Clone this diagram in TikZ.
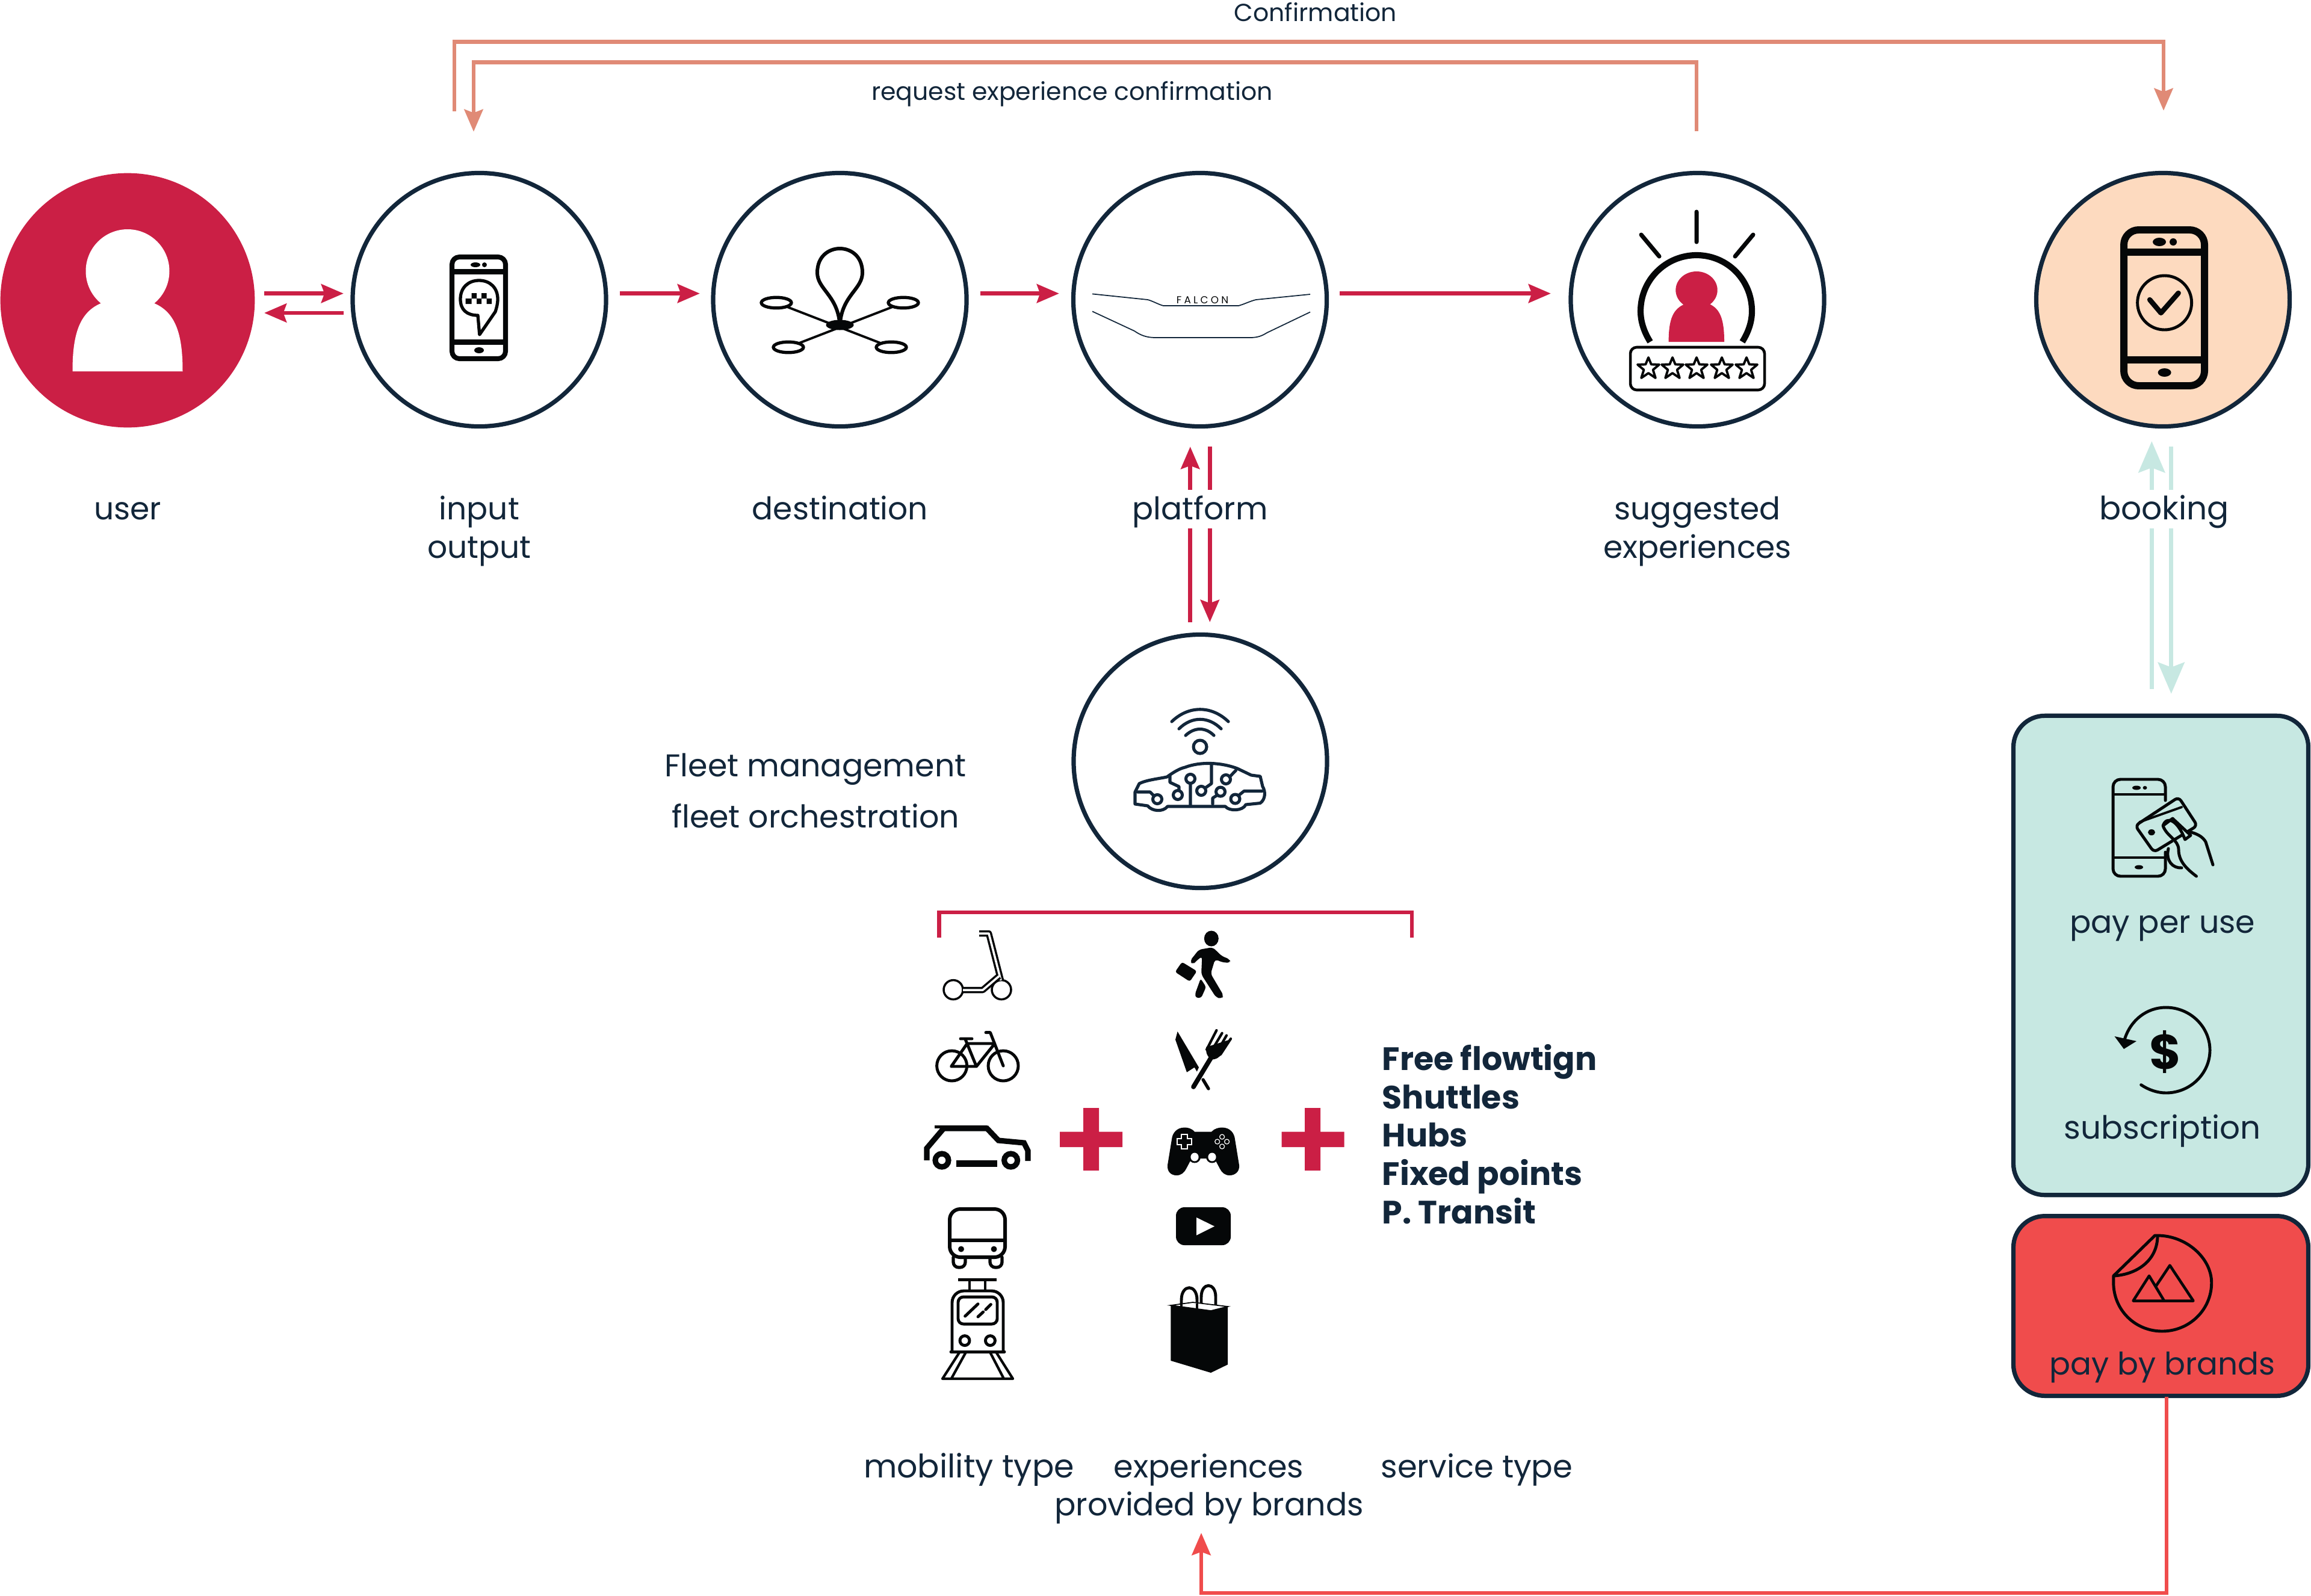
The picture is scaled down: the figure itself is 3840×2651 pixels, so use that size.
\documentclass[tikz,border=0pt]{standalone}
\usepackage{fontspec}
\setmainfont{Poppins}
\usetikzlibrary{arrows.meta,calc}
\definecolor{navy}{HTML}{12263A}
\definecolor{crimson}{HTML}{CB1F45}
\definecolor{peach}{HTML}{FDDABF}
\definecolor{mint}{HTML}{C7E8E2}
\definecolor{salmon}{HTML}{E08A76}
\definecolor{brandred}{HTML}{F04C4C}
\definecolor{ink}{HTML}{050708}
\tikzset{
  ring/.style={circle,draw=navy,line width=2.05pt,minimum size=119.75pt,inner sep=0pt},
  panel/.style={rectangle,rounded corners=14.8pt,draw=navy,line width=2.05pt,inner sep=0pt,minimum width=139.35pt},
  redarrow/.style={draw=crimson,line width=1.93pt,-{Stealth[length=10.5pt,width=8.8pt,inset=1.5pt]}},
  salarrow/.style={draw=salmon,line width=1.93pt,-{Stealth[length=10.5pt,width=8.8pt,inset=1.6pt]}},
  mintarrow/.style={draw=mint,line width=1.93pt,-{Stealth[length=14.8pt,width=12.5pt,inset=2.3pt]}},
  brandarrow/.style={draw=brandred,line width=1.93pt,-{Stealth[length=10.5pt,width=8.8pt,inset=1.5pt]}},
  lbl/.style={anchor=base,inner sep=0pt,text=navy,font=\fontsize{14.75}{18.1}\selectfont,align=center},
  small/.style={anchor=base,inner sep=0pt,text=navy,font=\fontsize{11.65}{14}\selectfont},
  gap/.style={fill=white,text height=13.9pt,text depth=4.3pt},
  ic/.style={draw=ink,line width=1.5pt,line join=round,line cap=round},
  icf/.style={fill=ink},
  fl/.style={draw=navy,line width=1.45pt,line join=round,line cap=round},
}
\begin{document}
\begin{tikzpicture}[x=0.01cm,y=-0.01cm]
\useasboundingbox (0,0) rectangle (3840,2651);
% main nodes
\node[circle,fill=crimson,minimum size=120.2pt,inner sep=0pt] (user) at (212,499) {};
\node[ring] (input) at (796.5,498) {};
\node[ring] (destination) at (1395.5,498) {};
\node[ring] (platform) at (1994,498) {};
\node[ring] (suggested) at (2820.5,498) {};
\node[ring,fill=peach] (booking) at (3594,498) {};
\node[ring] (fleet) at (1994.5,1265) {};
\node[panel,fill=mint,minimum height=226.45pt] (payuse) at (3590.5,1587.5) {};
\node[panel,fill=brandred,minimum height=84.95pt] (paybrand) at (3590.5,2170) {};
% connectors
\draw[redarrow] ($(user.east)+(15,-11.3)$) -- ($(input.west)+(-11.5,-10.3)$);
\draw[redarrow] ($(input.west)+(-11.5,22)$) -- ($(user.east)+(15,21)$);
\draw[redarrow] ($(input.east)+(19,-10.3)$) -- ($(destination.west)+(-18.5,-10.3)$);
\draw[redarrow] ($(destination.east)+(19.5,-10.3)$) -- ($(platform.west)+(-20,-10.3)$);
\draw[redarrow] ($(platform.east)+(18,-10.3)$) -- ($(suggested.west)+(-29.5,-10.3)$);
\draw[salarrow] ($(input.north)+(-41.5,-99)$) -- ++(0,-115.7) -| ($(booking.north)+(1,-100)$);
\draw[salarrow] ($(suggested.north)+(-1.5,-66)$) -- ++(0,-114.7) -| ($(input.north)+(-9.5,-65)$);
\draw[redarrow] ($(fleet.north)+(-16.8,-17)$) -- ($(platform.south)+(-16.3,30)$);
\draw[redarrow] ($(platform.south)+(16.3,30)$) -- ($(fleet.north)+(15.8,-17)$);
\draw[mintarrow] ($(payuse.north)+(-15.2,-41)$) -- ($(booking.south)+(-18.7,21)$);
\draw[mintarrow] ($(booking.south)+(13.7,30)$) -- ($(payuse.north)+(17.2,-33)$);
\coordinate (brandElbow) at (3600,2647);
\coordinate (brandTip) at (1996,2547);
\draw[brandarrow] ($(paybrand.south)+(9.5,-2)$) -- (brandElbow) -| (brandTip);
% bracket
\draw[draw=crimson,line width=1.9pt] (1560.7,1558) -- (1560.7,1516) -- (2346,1516) -- (2346,1558);
% labels
\node[small] (lconf) at (2186,35) {Confirmation};
\node[small] (lreq) at (1781.5,166.7) {request experience confirmation};
\node[lbl] (luser) at (212,863) {user};
\node[lbl] (linput) at (796.5,927) {input\\output};
\node[lbl] (ldest) at (1396,863) {destination};
\node[lbl,gap] (lplat) at (1994,863) {platform};
\node[lbl] (lsugg) at (2820.5,927) {suggested\\experiences};
\node[lbl,gap,font=\fontsize{15.2}{18.1}\selectfont] (lbook) at (3596,863) {booking};
\node[lbl,font=\fontsize{14.85}{18.1}\selectfont] (lfleet1) at (1355,1290) {Fleet management};
\node[lbl,font=\fontsize{14.85}{18.1}\selectfont] (lfleet2) at (1355,1375) {fleet orchestration};
\node[lbl,font=\fontsize{15.3}{18.1}\selectfont] (lmob) at (1610,2455) {mobility type};
\node[lbl,font=\fontsize{14.9}{18.1}\selectfont] (lexp) at (2008.5,2455) {experiences};
\node[lbl,font=\fontsize{14.9}{18.1}\selectfont] (lprov) at (2009,2518) {provided by brands};
\node[lbl,font=\fontsize{15}{18.1}\selectfont] (lserv) at (2454,2455) {service type};
\node[lbl,font=\fontsize{14.85}{18.1}\selectfont] (lppu) at (3593,1550) {pay per use};
\node[lbl,font=\fontsize{15.1}{18.1}\selectfont] (lsub) at (3593,1892) {subscription};
\node[lbl,font=\fontsize{14.7}{18.1}\selectfont] (lpbb) at (3593,2284) {pay by brands};
\node[anchor=base west,inner sep=0pt,text=navy,align=left,font=\fontsize{15.3}{18.07}\selectfont\bfseries] (lservices) at (2296,2033)
  {Free flowtign\\Shuttles\\Hubs\\Fixed points\\P. Transit};
% user person
\fill[white] (167.6,504) .. controls (130,520) and (120.5,560) .. (120.5,617) -- (303.5,617) .. controls (303.5,560) and (294,520) .. (256.4,504) -- cycle;
\fill[white] (212,450.5) ellipse [x radius=69.5,y radius=69.5];
% input phone
\draw[ic,line width=2.3pt,rounded corners=3.5pt] (751,427) rectangle (840,596);
\draw[ic,line width=2.3pt,line cap=butt] (751,451.5) -- (840,451.5) (751,568.5) -- (840,568.5);
\fill[icf] (790,440) ellipse [x radius=8,y radius=4] (805,440) ellipse [x radius=4,y radius=4] (796,582) ellipse [x radius=8,y radius=5];
\draw[ic] (796.8,556) -- (794,524) .. controls (776,524) and (765,515) .. (765,497) .. controls (765,478) and (778,466) .. (796,466) .. controls (814,466) and (827,478) .. (827,497) .. controls (827,505) and (825,512) .. (823,518) -- cycle;
\fill[icf] (783.6,487) rectangle (792,496) (800,487) rectangle (808.5,496) (773.6,496) rectangle (783.6,505) (792,496) rectangle (800,505) (808.5,496) rectangle (817,505);
% destination icon
\draw[ic,line width=1.7pt] (1395,535) .. controls (1390,490) and (1358,480) .. (1358,453) .. controls (1358,425) and (1378,413) .. (1395.5,413) .. controls (1413,413) and (1433,425) .. (1433,453) .. controls (1433,480) and (1401,490) .. (1396,535);
\draw[ic,line width=1.1pt] (1290,503) -- (1481,577) (1501,503) -- (1310,577);
\fill[icf] (1395.5,540) ellipse [x radius=23,y radius=8.5];
\foreach \p in {(1290,503),(1501,503),(1310,577),(1481,577)}
  \draw[ic,fill=white] \p ellipse [x radius=25,y radius=8.8];
% platform icon
\draw[navy,line width=0.5pt] (1815,488.4) -- (1907,498) .. controls (1915,500) and (1925,506) .. (1933,508) -- (2058,508) .. controls (2066,506) and (2078,500) .. (2087,498) -- (2177,489);
\draw[navy,line width=0.5pt] (1815,517.4) -- (1885,550) .. controls (1895,557) and (1905,561) .. (1920,561) -- (2077,561) .. controls (2090,561) and (2097,558) .. (2105,553) -- (2177,518.5);
\node[anchor=base,inner sep=0pt,text=ink,font=\fontsize{4.8}{5}\selectfont\addfontfeature{LetterSpace=25}] (lfalcon) at (1998,504.7) {FALCON};
% suggested icon
\draw[ic,line width=2pt] (2819,352) -- (2819,402) (2727,390) -- (2757,426) (2913,390) -- (2883,426);
\draw[ic,line width=2.9pt,line cap=butt] (2742,568) .. controls (2732,552) and (2726,535) .. (2726,517) .. controls (2726,465) and (2768,424) .. (2819,424) .. controls (2870,424) and (2911,465) .. (2911,517) .. controls (2911,535) and (2905,552) .. (2895,568);
\fill[crimson] (2819,482) ellipse [x radius=34.7,y radius=31];
\fill[crimson] (2772.6,568) .. controls (2772.6,530) and (2780,513) .. (2800,505) -- (2840,505) .. controls (2858,513) and (2865,530) .. (2865,568) -- cycle;
\draw[ic,line width=1.3pt,rounded corners=3pt] (2709,577) rectangle (2932,648);
\foreach \c in {2739,2779,2819,2861,2902}{
  \begin{scope}[shift={(\c,612)}]
  \draw[ic,line width=1.1pt,miter limit=3] (0,-18) -- (4.7,-6.5) -- (18,-6.2) -- (7.6,2.5) -- (11.8,16) -- (0,8) -- (-11.8,16) -- (-7.6,2.5) -- (-18,-6.2) -- (-4.7,-6.5) -- cycle;
  \end{scope}
}
% booking icon
\draw[ic,line width=3.4pt,rounded corners=7pt] (3529,382) rectangle (3663,641);
\draw[ic,line width=3.6pt,line cap=butt] (3529,419) -- (3663,419) (3529,598) -- (3663,598);
\fill[icf] (3588,402) ellipse [x radius=11,y radius=7] (3611,402) ellipse [x radius=6,y radius=6] (3596.6,619) ellipse [x radius=11,y radius=7];
\draw[ic,line width=1.4pt] (3596.6,503) ellipse [x radius=45,y radius=45];
\draw[ic,line width=2.4pt] (3572,498) -- (3590.6,520) -- (3619.6,487);
% fleet icon
\draw[fl] (1947,1199) .. controls (1975,1172) and (2013,1172) .. (2041,1199);
\draw[fl] (1959,1211) .. controls (1980,1190) and (2008,1190) .. (2029,1211);
\draw[fl] (1970,1222) .. controls (1985,1208) and (2003,1208) .. (2017,1222);
\draw[fl] (1994,1241) ellipse [x radius=11,y radius=11];
\draw[fl] (1886,1332) -- (1886,1316) -- (1893,1302) .. controls (1905,1296) and (1925,1294) .. (1939,1291) .. controls (1950,1283) and (1960,1277) .. (1969,1275) .. controls (1995,1265) and (2030,1267) .. (2056,1277) -- (2079,1288) -- (2094,1290) -- (2098,1307) .. controls (2103,1315) and (2103,1328) .. (2094,1334.5) -- (2070,1337) .. controls (2065,1348) and (2042,1348) .. (2036,1340) -- (1940,1340) .. controls (1932,1350) and (1914,1348) .. (1907,1339) -- (1886,1336) -- cycle;
\draw[fl] (1978,1303) -- (1978,1338) (2013,1271) -- (2013,1302) -- (2003,1309) (1944,1288) -- (1944,1300) -- (1959,1307) -- (1959,1313)
  (1890,1316) -- (1911,1316) -- (1916,1321) (2097,1314.5) -- (2067,1314.5) -- (2059,1321) (2053.6,1280) -- (2043,1291) (2015,1336) -- (2015,1326) -- (2023,1321);
\foreach \p in {(1978,1294),(1996,1314),(1957,1321),(1923,1328),(2052.5,1327.5),(2037,1295),(2028,1315.6)}
  \draw[fl] \p ellipse [x radius=7.5,y radius=7.5];
% scooter
\draw[ic,line width=1pt] (1584,1644.6) ellipse [x radius=16,y radius=16] (1664,1644.6) ellipse [x radius=16,y radius=16];
\draw[ink,line width=1pt,double=white,double distance=1pt,line join=round] (1627,1551) -- (1643,1551) -- (1663,1629);
\draw[ink,line width=1pt,double=white,double distance=1pt,line join=round] (1600,1645) -- (1633,1645) -- (1660,1622);
% bike
\draw[ic,line width=1.4pt] (1581.6,1771) ellipse [x radius=25,y radius=25] (1667,1771) ellipse [x radius=25,y radius=25];
\draw[ic,line width=1.4pt] (1580.6,1772) -- (1622.4,1772) -- (1653,1734) -- (1607,1734) -- cycle (1603.6,1726) -- (1622.4,1772) (1596,1726) -- (1615,1726) (1638,1715.6) -- (1645.4,1715.6) -- (1667,1771);
% car
\draw[ink,line width=2.6pt,line join=miter] (1540,1928) -- (1540,1908) -- (1568,1875) -- (1640,1875) -- (1659,1895) -- (1701.5,1899) -- (1708,1912) -- (1708,1929);
\fill[ink,line width=0pt] (1552.5,1870) rectangle (1640,1875);
\draw[ink,line width=2.6pt] (1565,1928) ellipse [x radius=11,y radius=11] (1679.6,1928) ellipse [x radius=11,y radius=11];
\fill[ink] (1589,1928) rectangle (1656.6,1939);
% bus
\draw[ic,line width=1.7pt,rounded corners=5pt] (1578,2009) rectangle (1670,2089);
\draw[ic,line width=1.7pt,line cap=butt] (1578,2061) -- (1670,2061);
\fill[icf] (1597,2075.5) ellipse [x radius=5,y radius=5] (1651.5,2075.5) ellipse [x radius=5,y radius=5];
\draw[ic,line width=1.5pt,rounded corners=2.5pt] (1584,2089) -- (1584,2106) -- (1604,2106) -- (1604,2089) (1645,2089) -- (1645,2106) -- (1665,2106) -- (1665,2089);
% train
\draw[ic,line width=1.4pt,line cap=butt] (1592,2126.5) -- (1656,2126.5) (1611,2126) -- (1611,2145) (1637,2126) -- (1637,2145);
\draw[ic,line width=1.4pt,rounded corners=5.5pt] (1582,2246) -- (1582,2145) -- (1667,2145) -- (1667,2246);
\draw[ic,line width=1.4pt] (1580,2246) -- (1669,2246);
\draw[ic,line width=1.4pt,rounded corners=2.5pt] (1592,2155) rectangle (1657,2200);
\draw[ic,line width=1.4pt] (1603.6,2187) -- (1625,2166.7) (1625,2188) -- (1633.7,2180) (1637.8,2176) -- (1646.4,2167.5);
\draw[ic,line width=1.4pt] (1603,2227.6) ellipse [x radius=8,y radius=8] (1645.4,2227.6) ellipse [x radius=8,y radius=8];
\draw[ic,line width=1.2pt] (1594,2247.5) -- (1566,2291) -- (1683,2291) -- (1655.6,2247.5) (1604.6,2247.5) -- (1580.6,2291) (1645.4,2247.5) -- (1668,2291);
% walker
\fill[icf] (2012.8,1559.5) ellipse [x radius=12,y radius=13];
\fill[icf,rounded corners=1.5pt] (1992,1578) -- (2015,1574) -- (2030.6,1589) -- (2043,1593.6) -- (2045,1600) -- (2030.6,1599) -- (2019,1593.6) -- (2011.7,1618) -- (2033,1654) -- (2030,1660) -- (2020.4,1657) -- (1996,1619) -- (1997.4,1589) -- (1987,1597.4) -- (1982,1603) -- (1977,1597) -- cycle;
\fill[icf,rounded corners=1pt] (1964,1598.5) -- (1988.8,1613.7) -- (1977,1631) -- (1952.5,1615) -- cycle;
\fill[icf,rounded corners=1pt] (1995,1626) -- (2004,1640) -- (1996,1658) -- (1987,1658) -- (1985.7,1651.6) -- cycle;
% knife and fork
\fill[icf] (1956.6,1714) -- (1953,1727.5) -- (1972,1781.7) -- (1984.7,1773.6) -- (1988.8,1780.6) -- (1992,1773.6) -- cycle;
\draw[ink,line width=1.5pt,line cap=round] (1999,1794) -- (2008,1809);
\draw[ink,line width=2.2pt,line cap=round] (2012,1758) -- (1983,1806);
\fill[icf] (2004,1744) .. controls (2004,1755) and (2012,1762) .. (2018,1760) .. controls (2026,1758) and (2030,1752) .. (2033,1747) -- (2045,1727) -- (2004,1740) -- cycle;
\draw[ink,line width=1.2pt,line cap=round] (2005,1744) -- (2021.4,1712) (2012,1748) -- (2030.6,1716.7) (2020,1752) -- (2038,1720.5) (2028,1752) -- (2045,1726);
% controller
\fill[icf] (1985,1880.6) -- (2013,1880.6) .. controls (2018,1875) and (2025,1873.5) .. (2030.6,1873.5) .. controls (2044,1873.5) and (2051,1883) .. (2052,1893) -- (2059,1936) .. controls (2060,1947) and (2052,1953) .. (2043,1953) .. controls (2035,1953) and (2030,1948) .. (2027,1942) -- (2018,1925) -- (1980,1925) -- (1971,1942) .. controls (1968,1948) and (1963,1953) .. (1955,1953) .. controls (1946,1953) and (1939,1947) .. (1940,1936) -- (1947,1893) .. controls (1948,1883) and (1955,1873.5) .. (1968.4,1873.5) .. controls (1974,1873.5) and (1980,1875) .. (1985,1880.6) -- cycle;
\fill[icf] (1985,1922.5) ellipse [x radius=10,y radius=10] (2014,1922.5) ellipse [x radius=10,y radius=10];
\fill[white] (1985,1922.5) ellipse [x radius=6.6,y radius=7] (2014,1922.5) ellipse [x radius=6.6,y radius=7];
\draw[white,line width=0.35pt] (1963,1885) -- (1973,1885) -- (1973,1892) -- (1980,1892) -- (1980,1902) -- (1973,1902) -- (1973,1909) -- (1963,1909) -- (1963,1902) -- (1956,1902) -- (1956,1892) -- (1963,1892) -- cycle;
\draw[white,line width=0.35pt] (2030.6,1889) circle [radius=4] (2022.7,1897) circle [radius=4] (2038.6,1897) circle [radius=4] (2030.6,1905) circle [radius=4];
% play
\fill[icf,rounded corners=4pt] (1954,2006) rectangle (2045,2069);
\fill[white] (1988,2023) -- (2018,2037.7) -- (1988,2052.6) -- cycle;
% bag
\draw[ink,line width=1.4pt] (1963,2172) -- (1963,2160) .. controls (1963,2133) and (1989,2133) .. (1989,2160) -- (1989,2176);
\draw[ink,line width=1.4pt] (1996,2168) -- (1996,2155) .. controls (1996,2130) and (2020,2130) .. (2020,2155) -- (2020,2170);
\fill[icf] (1945.4,2169) -- (1945.4,2261) -- (2012,2281) -- (2040,2267.4) -- (2040,2171) -- (2012,2178) -- cycle;
\draw[ink,line width=0.5pt,fill=white] (1945.4,2169) -- (1982,2164) -- (2040,2171) -- (2012,2178) -- cycle;
\draw[ink,line width=1.4pt] (1963,2172) -- (1963,2166) (1989,2166) -- (1989,2176);
% pluses
\fill[crimson] (1800,1841) rectangle (1826,1945) (1761,1880.6) rectangle (1865,1906);
\fill[crimson] (2168,1841) rectangle (2194,1945) (2129.6,1880.6) rectangle (2233.7,1906);
% pay per use icon
\draw[ic,line width=1.4pt,rounded corners=3.5pt] (3598,1330) -- (3598,1295) -- (3511,1295) -- (3511,1456) -- (3598,1456) -- (3598,1416);
\draw[ic,line width=1.4pt,line cap=butt] (3511,1320) -- (3598,1320) (3511,1425) -- (3598,1425);
\fill[icf] (3550,1309) ellipse [x radius=7,y radius=3.5] (3564,1309) ellipse [x radius=3.5,y radius=3] (3554,1441) ellipse [x radius=7,y radius=3.5];
\draw[ic,line width=1.4pt,rounded corners=2pt,fill=mint] (3548,1372) -- (3620,1324.5) -- (3651,1372) -- (3579,1416) -- cycle;
\draw[ic,line width=1.1pt] (3555,1366) -- (3625.4,1341);
\fill[icf] (3575,1383) ellipse [x radius=6,y radius=5];
\draw[ic,line width=1.4pt,fill=mint] (3594,1372) .. controls (3600,1355) and (3618,1362) .. (3630.6,1395) -- (3640,1388) -- (3610,1360) -- cycle;
\draw[ic,line width=1.4pt,fill=mint] (3594,1372) .. controls (3600,1390) and (3620,1395) .. (3620,1412) .. controls (3620,1432) and (3635,1445) .. (3649.5,1456);
\draw[ic,line width=1.4pt] (3677,1437) -- (3665,1399) .. controls (3660,1390) and (3650,1385) .. (3637.5,1382);
\draw[ic,line width=1.4pt] (3603,1410) .. controls (3598,1430) and (3610,1443) .. (3625,1442);
% subscription icon
\draw[ic,line width=1.4pt] (3557.6,1802.6) .. controls (3570,1811) and (3585,1816) .. (3599,1816) .. controls (3639,1816) and (3672,1784) .. (3672,1745) .. controls (3672,1706) and (3639,1674) .. (3599,1674) .. controls (3567,1674) and (3540,1695) .. (3530,1727.7);
\fill[icf] (3513.5,1722) -- (3550,1730) -- (3529,1743) -- cycle;
\node[anchor=base,inner sep=0pt,text=ink,font=\fontsize{23}{24}\selectfont\bfseries] (ldollar) at (3598,1776) {\$};
% sticker icon
\draw[ic,line width=1.4pt] (3585,2053) .. controls (3632,2053) and (3674.7,2090) .. (3674.7,2131.6) .. controls (3674.7,2176) and (3638,2212) .. (3592.7,2212) .. controls (3547,2212) and (3511.8,2176) .. (3511.8,2131.6) -- (3511.8,2120) -- (3580.6,2053) -- (3585,2053) .. controls (3585,2095) and (3550,2118) .. (3511.8,2120);
\draw[ic,line width=1.3pt] (3596,2161.5) -- (3571,2120) -- (3544.5,2161.5) -- (3644.4,2161.5) -- (3605.4,2102.6) -- (3582.4,2137);
\end{tikzpicture}
\end{document}
